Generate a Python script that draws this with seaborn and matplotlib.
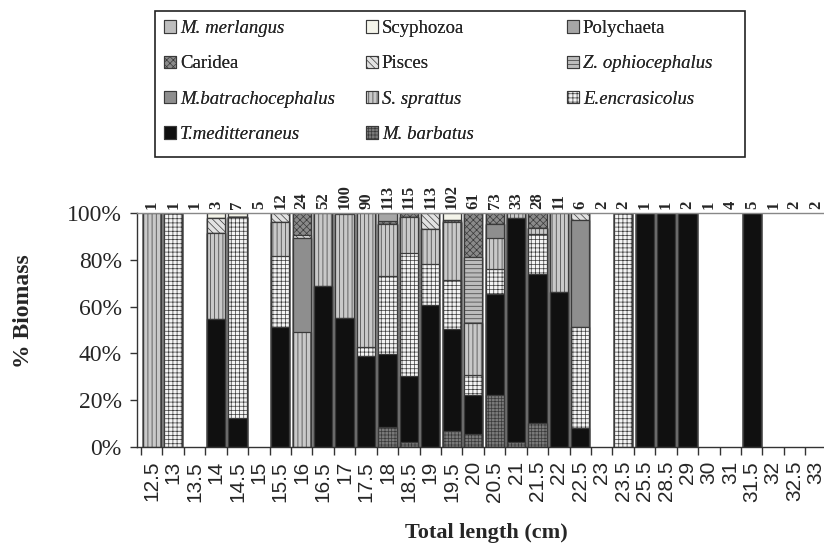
import matplotlib
matplotlib.use("Agg")
import matplotlib.pyplot as plt
import seaborn as sns
import numpy as np
from matplotlib.patches import Patch, Rectangle
from matplotlib.ticker import FixedLocator, PercentFormatter

# ---------------- data ----------------
lengths = ['12.5', '13', '13.5', '14', '14.5', '15', '15.5', '16', '16.5', '17',
           '17.5', '18', '18.5', '19', '19.5', '20', '20.5', '21', '21.5', '22',
           '22.5', '23', '23.5', '25.5', '28.5', '29', '30', '31', '31.5', '32',
           '32.5', '33']
n_fish = [1, 1, 1, 3, 7, 5, 12, 24, 52, 100, 90, 113, 115, 113, 102, 61, 73, 33,
          28, 11, 6, 2, 2, 1, 1, 2, 1, 4, 5, 1, 2, 2]

# % biomass per prey group (bottom -> top of each stack)
m_barbatus = [0, 0, 0, 0, 0, 0, 0, 0, 0, 0, 0, 8.7, 2.0, 0, 6.8, 5.4, 22.2, 2.0,
              10.1, 0, 0, 0, 0, 0, 0, 0, 0, 0, 0, 0, 0, 0]
t_meditteraneus = [0, 0, 0, 54.6, 12.5, 0, 51.4, 0, 68.8, 55.3, 38.9, 31.2, 28.5,
                   60.7, 43.5, 16.8, 43.0, 95.7, 63.7, 66.4, 8.3, 0, 0, 100, 100,
                   100, 0, 0, 100, 0, 0, 0]
e_encrasicolus = [0, 100, 0, 0, 85.9, 0, 30.2, 0, 0, 0, 4.0, 33.2, 52.3, 17.4,
                  21.1, 8.6, 10.7, 0, 17.1, 0, 42.8, 0, 100, 0, 0, 0, 0, 0, 0, 0,
                  0, 0]
s_sprattus = [100, 0, 0, 36.7, 0, 0, 14.4, 49.0, 31.2, 44.2, 57.1, 22.1, 15.6,
              15.1, 24.6, 22.0, 13.3, 2.3, 2.8, 33.6, 0, 0, 0, 0, 0, 0, 0, 0, 0,
              0, 0, 0]
m_batrachocephalus = [0, 0, 0, 0, 0, 0, 0, 40.4, 0, 0, 0, 0, 0, 0, 0, 0, 6.0, 0,
                      0, 0, 45.9, 0, 0, 0, 0, 0, 0, 0, 0, 0, 0, 0]
z_ophiocephalus = [0, 0, 0, 0, 0, 0, 0, 0, 0, 0, 0, 0, 0, 0, 0, 28.3, 0, 0, 0, 0,
                   0, 0, 0, 0, 0, 0, 0, 0, 0, 0, 0, 0]
pisces = [0, 0, 0, 6.4, 0, 0, 4.0, 1.0, 0, 0, 0, 0, 0, 6.8, 0, 0, 0, 0, 0, 0, 3.0,
          0, 0, 0, 0, 0, 0, 0, 0, 0, 0, 0]
caridea = [0, 0, 0, 0, 0, 0, 0, 9.6, 0, 0.5, 0, 1.2, 1.6, 0, 1.0, 18.9, 4.8, 0,
           6.3, 0, 0, 0, 0, 0, 0, 0, 0, 0, 0, 0, 0, 0]
polychaeta = [0, 0, 0, 0, 0, 0, 0, 0, 0, 0, 0, 3.7, 0, 0, 0, 0, 0, 0, 0, 0, 0, 0,
              0, 0, 0, 0, 0, 0, 0, 0, 0, 0]
scyphozoa = [0, 0, 0, 2.3, 1.6, 0, 0, 0, 0, 0, 0, 0, 0, 0, 3.0, 0, 0, 0, 0, 0, 0,
             0, 0, 0, 0, 0, 0, 0, 0, 0, 0, 0]
m_merlangus = [0, 0, 0, 0, 0, 0, 0, 0, 0, 0, 0, 0, 0, 0, 0, 0, 0, 0, 0, 0, 0, 0,
               0, 0, 0, 0, 0, 0, 0, 0, 0, 0]

# stacking order bottom -> top: (name, values, facecolor, hatch, hatchcolor, italic)
layers = [
    ("M. barbatus", m_barbatus, "#7a7a7a", "+++++", "#2a2a2a", True),
    ("T.meditteraneus", t_meditteraneus, "#101010", "", "#101010", True),
    ("E.encrasicolus", e_encrasicolus, "#f4f4f4", "++++", "#808080", True),
    ("S. sprattus", s_sprattus, "#c9c9c9", "||||", "#b2b2b2", True),
    ("M.batrachocephalus", m_batrachocephalus, "#8e8e8e", "", "#8e8e8e", True),
    ("Z. ophiocephalus", z_ophiocephalus, "#bcbcbc", "----", "#8a8a8a", True),
    ("Pisces", pisces, "#e2e2e2", "\\\\\\\\\\", "#4a4a4a", False),
    ("Caridea", caridea, "#8a8a8a", "xxxxx", "#222222", False),
    ("Polychaeta", polychaeta, "#a6a6a6", "", "#a6a6a6", False),
    ("Scyphozoa", scyphozoa, "#f4f4ea", "", "#f4f4ea", False),
    ("M. merlangus", m_merlangus, "#bdbdbd", "", "#bdbdbd", True),
]

# ---------------- figure ----------------
sns.set_theme(style="white")
plt.rcParams["font.family"] = ["Liberation Serif", "DejaVu Serif"]
plt.rcParams["hatch.linewidth"] = 0.5

W, H = 824, 546
fig = plt.figure(figsize=(W / 100, H / 100), dpi=100)
ax = fig.add_axes([137 / W, 1 - 447 / H, 687 / W, 234 / H])

values = np.array([l[1] for l in layers], dtype=float)
cum = np.cumsum(values, axis=0)

edge = "#3a3a3a"
for k in range(len(layers) - 1, -1, -1):
    name, vals, fc, hatch, hc, it = layers[k]
    with plt.rc_context({"hatch.color": hc}):
        sns.barplot(x=lengths, y=cum[k], order=lengths, color=fc, saturation=1,
                    width=0.85, hatch=hatch if hatch else None,
                    edgecolor=edge, linewidth=0.9, ax=ax, errorbar=None)

# hide empty (zero-height) bars so they don't thicken the axis line
for p in ax.patches:
    if p.get_height() == 0:
        p.set_visible(False)

ax.set_xlim(-0.687, 31.37)
ax.set_ylim(0, 100)

# y axis
ax.yaxis.set_major_locator(FixedLocator([0, 20, 40, 60, 80, 100]))
ax.yaxis.set_major_formatter(PercentFormatter(decimals=0))
ax.tick_params(axis="y", which="major", direction="out", length=5, width=1,
               color="#333333", labelsize=17, pad=6, left=True)
ax.set_ylabel("% Biomass", fontsize=17, fontweight="bold")
ax.yaxis.set_label_coords(-0.150, 0.58)

# x axis
ax.set_xticks(range(len(lengths)))
ax.set_xticklabels(lengths, rotation=90, fontsize=15,
                   family=["Liberation Sans", "DejaVu Sans"])
ax.tick_params(axis="x", which="major", length=0, pad=10)
ax.xaxis.set_minor_locator(FixedLocator(np.arange(-0.5, len(lengths), 1.0)))
ax.tick_params(axis="x", which="minor", direction="out", length=6, width=1,
               color="#333333", bottom=True)
ax.set_xlabel("Total length (cm)", fontsize=16, fontweight="bold")
ax.xaxis.set_label_coords(0.509, -0.325)

for side in ["left", "bottom", "top"]:
    ax.spines[side].set_visible(True)
    ax.spines[side].set_color("#333333")
    ax.spines[side].set_linewidth(1.0)
ax.spines["top"].set_color("#888888")
ax.spines["right"].set_visible(False)
ax.grid(False)

# sample sizes above bars
for i, n in enumerate(n_fish):
    ax.text(i, 101.8, str(n), rotation=90, ha="center", va="bottom",
            fontsize=12, fontweight="bold", clip_on=False)

# ---------------- legend ----------------
legend_order = [
    ["M. merlangus", "Caridea", "M.batrachocephalus", "T.meditteraneus"],
    ["Scyphozoa", "Pisces", "S. sprattus", "M. barbatus"],
    ["Polychaeta", "Z. ophiocephalus", "E.encrasicolus"],
]
style = {l[0]: l for l in layers}
col_x = [164 / W, 366 / W, 567 / W]
for c, names in enumerate(legend_order):
    handles = []
    for nm in names:
        _, _, fc, hatch, hc, it = style[nm]
        with plt.rc_context({"hatch.color": hc}):
            handles.append(Patch(facecolor=fc, edgecolor=edge, linewidth=0.8,
                                 hatch=hatch if hatch else None, label=nm))
    leg = fig.legend(handles=handles, loc="upper left",
                     bbox_to_anchor=(col_x[c], 1 - 20 / H), frameon=False,
                     fontsize=13.5, handlelength=0.65, handleheight=0.65,
                     handletextpad=0.2, labelspacing=0.98, borderpad=0,
                     borderaxespad=0)
    for t, nm in zip(leg.get_texts(), names):
        if style[nm][5]:
            t.set_fontstyle("italic")
    fig.add_artist(leg)

fig.add_artist(Rectangle((155 / W, 1 - 157 / H), 590 / W, 146 / H,
                         transform=fig.transFigure, fill=False,
                         edgecolor="#222222", linewidth=1.2))

fig.savefig("out.png", dpi=100)
